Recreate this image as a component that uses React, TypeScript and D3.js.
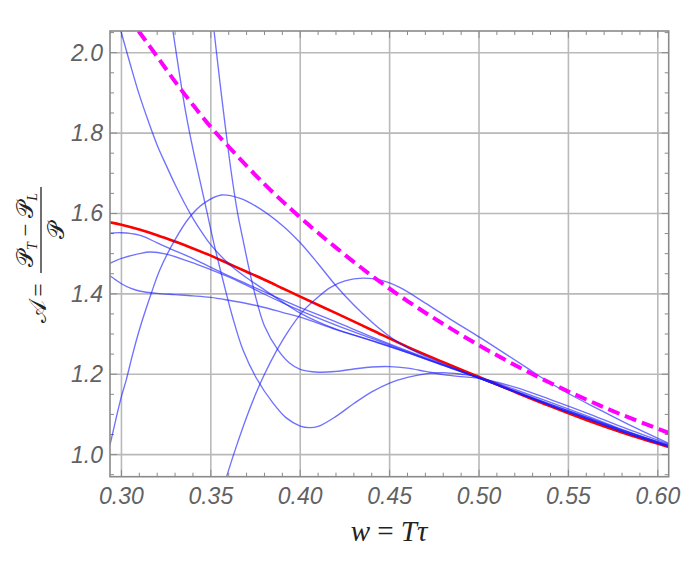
import React, { useEffect, useRef } from 'react';
import * as d3 from 'd3';

type Pt = [number, number];

// axis ticks
const xTickValues = [0.30, 0.35, 0.40, 0.45, 0.50, 0.55, 0.60];
const yTickValues = [1.0, 1.2, 1.4, 1.6, 1.8, 2.0];

// exact curve (red) and the bound (magenta dashed)
const redCurve: Pt[] = [
  [0.2936, 1.578], [0.30, 1.572], [0.31, 1.56], [0.32, 1.546], [0.33, 1.53], [0.34, 1.513],
  [0.35, 1.495], [0.36, 1.475], [0.37, 1.455], [0.38, 1.435], [0.39, 1.414], [0.40, 1.393],
  [0.42, 1.352], [0.44, 1.31], [0.46, 1.268], [0.48, 1.23], [0.50, 1.193], [0.52, 1.156],
  [0.54, 1.12], [0.56, 1.086], [0.58, 1.055], [0.6061, 1.019],
];

const magentaCurve: Pt[] = [
  [0.3096, 2.054], [0.32, 1.99], [0.33, 1.928], [0.34, 1.87], [0.35, 1.815], [0.36, 1.766],
  [0.38, 1.673], [0.40, 1.59], [0.42, 1.515], [0.44, 1.445], [0.46, 1.382], [0.48, 1.325],
  [0.50, 1.272], [0.52, 1.223], [0.54, 1.178], [0.56, 1.137], [0.58, 1.099], [0.6061, 1.054],
];

// common tails the approximations settle on
const bundleTail: Pt[] = [
  [0.52, 1.156], [0.54, 1.122], [0.56, 1.09], [0.58, 1.058], [0.6061, 1.02],
];
const bundleTailHigh: Pt[] = [
  [0.52, 1.158], [0.54, 1.125], [0.56, 1.093], [0.58, 1.061], [0.6061, 1.023],
];

const approxL1: Pt[] = [
  [0.2936, 1.551], [0.30, 1.552], [0.31, 1.546], [0.32, 1.527], [0.33, 1.507], [0.338, 1.492],
  [0.35, 1.466], [0.36, 1.445], [0.37, 1.425], [0.38, 1.405], [0.39, 1.385], [0.40, 1.366],
  [0.42, 1.33], [0.44, 1.293], [0.46, 1.258], [0.48, 1.224], [0.50, 1.191],
];

const approxL2: Pt[] = [
  [0.2936, 1.476], [0.30, 1.488], [0.31, 1.5], [0.316, 1.504], [0.325, 1.499], [0.338, 1.48],
  [0.35, 1.46], [0.36, 1.442], [0.37, 1.421], [0.38, 1.399], [0.39, 1.378], [0.40, 1.358],
  [0.42, 1.322], [0.44, 1.289], [0.46, 1.256], [0.48, 1.223], [0.50, 1.191],
];

const approxL3: Pt[] = [
  [0.2936, 1.445], [0.297, 1.434], [0.30, 1.425], [0.305, 1.414], [0.31, 1.407], [0.32, 1.401],
  [0.33, 1.398], [0.34, 1.395], [0.35, 1.391], [0.36, 1.384], [0.37, 1.376], [0.38, 1.366],
  [0.39, 1.354], [0.40, 1.342], [0.42, 1.311], [0.44, 1.283], [0.46, 1.254], [0.48, 1.222],
  [0.50, 1.19],
];

const approxS1: Pt[] = [
  [0.2997, 2.054], [0.305, 1.97], [0.31, 1.895], [0.315, 1.83], [0.32, 1.77], [0.325, 1.72],
  [0.33, 1.672], [0.335, 1.628], [0.34, 1.588], [0.345, 1.553], [0.35, 1.522], [0.36, 1.475],
  [0.37, 1.44], [0.38, 1.41], [0.39, 1.38], [0.40, 1.352], [0.41, 1.33], [0.42, 1.312],
  [0.44, 1.284], [0.46, 1.254], [0.48, 1.222], [0.50, 1.19],
];

const approxS2: Pt[] = [
  [0.3288, 2.054], [0.332, 1.96], [0.336, 1.85], [0.34, 1.76], [0.3435, 1.69], [0.348, 1.60],
  [0.352, 1.52], [0.357, 1.43], [0.362, 1.345], [0.368, 1.26], [0.3755, 1.19], [0.3848, 1.128],
  [0.392, 1.092], [0.40, 1.071], [0.405, 1.067], [0.41, 1.07], [0.42, 1.095], [0.43, 1.127],
  [0.44, 1.156], [0.45, 1.178], [0.46, 1.192], [0.47, 1.201], [0.48, 1.204], [0.49, 1.2],
  [0.50, 1.193], [0.52, 1.162], [0.54, 1.13], [0.56, 1.097], [0.58, 1.063], [0.6061, 1.023],
];

const approxS3: Pt[] = [
  [0.3518, 2.054], [0.355, 1.93], [0.358, 1.82], [0.3615, 1.70], [0.365, 1.60], [0.368, 1.534],
  [0.372, 1.45], [0.3755, 1.385], [0.38, 1.32], [0.3876, 1.26], [0.394, 1.228], [0.40, 1.212],
  [0.41, 1.205], [0.42, 1.207], [0.43, 1.213], [0.44, 1.218], [0.45, 1.219], [0.46, 1.215],
  [0.47, 1.207], [0.48, 1.199], [0.49, 1.194], [0.50, 1.19], [0.52, 1.168], [0.54, 1.137],
  [0.56, 1.104], [0.58, 1.069], [0.6061, 1.026],
];

const approxP: Pt[] = [
  [0.2936, 1.024], [0.297, 1.09], [0.30, 1.145], [0.3027, 1.186], [0.306, 1.245], [0.31, 1.31],
  [0.3166, 1.40], [0.3215, 1.46], [0.33, 1.535], [0.338, 1.59], [0.346, 1.625], [0.356, 1.646],
  [0.366, 1.638], [0.3774, 1.612], [0.39, 1.57], [0.40, 1.527], [0.41, 1.475], [0.42, 1.42],
  [0.43, 1.372], [0.44, 1.33], [0.45, 1.294], [0.46, 1.266], [0.47, 1.245], [0.48, 1.226],
  [0.49, 1.208], [0.50, 1.19],
];

const approxQ: Pt[] = [
  [0.3588, 0.945], [0.362, 0.99], [0.366, 1.043], [0.37, 1.093], [0.375, 1.15], [0.38, 1.2],
  [0.3867, 1.258], [0.393, 1.305], [0.4016, 1.357], [0.41, 1.392], [0.4165, 1.415], [0.425, 1.432],
  [0.435, 1.439], [0.445, 1.434], [0.4556, 1.416], [0.47, 1.377], [0.485, 1.334], [0.50, 1.293],
  [0.515, 1.25], [0.5264, 1.217], [0.5338, 1.195], [0.55, 1.152], [0.5673, 1.112], [0.585, 1.072],
  [0.6061, 1.028],
];

const blueSeries: Pt[][] = [
  [...approxL1, ...bundleTailHigh],
  [...approxL2, ...bundleTailHigh],
  [...approxL3, ...bundleTail],
  [...approxS1, ...bundleTail],
  [...approxP, ...bundleTail],
  approxS2,
  approxS3,
  approxQ,
];

const W = 696;
const H = 564;
const plot = { left: 110, top: 31, right: 668.7, bottom: 476.7 };

export default function App() {
  const svgRef = useRef<SVGSVGElement>(null);

  useEffect(() => {
    if (!svgRef.current) return;
    const svg = d3.select(svgRef.current);
    svg.selectAll('*').remove();

    const x = d3.scaleLinear().domain([0.2936, 0.6061]).range([plot.left, plot.right]);
    const y = d3.scaleLinear().domain([0.945, 2.054]).range([plot.bottom, plot.top]);

    svg.append('rect').attr('width', W).attr('height', H).attr('fill', 'white');

    svg.append('defs').append('clipPath').attr('id', 'plotClip')
      .append('rect')
      .attr('x', plot.left).attr('y', plot.top)
      .attr('width', plot.right - plot.left).attr('height', plot.bottom - plot.top);

    // grid
    const grid = svg.append('g').attr('stroke', '#b9b9b9').attr('stroke-width', 1.6);
    xTickValues.forEach(v => {
      grid.append('line').attr('x1', x(v)).attr('x2', x(v)).attr('y1', plot.top).attr('y2', plot.bottom);
    });
    yTickValues.forEach(v => {
      grid.append('line').attr('y1', y(v)).attr('y2', y(v)).attr('x1', plot.left).attr('x2', plot.right);
    });

    // frame ticks (inside, all four sides)
    const ticks = svg.append('g').attr('stroke', '#8a8a8a').attr('stroke-width', 1);
    const isMajor = (v: number, list: number[]) => list.some(t => Math.abs(t - v) < 1e-6);
    x.ticks(30).forEach(v => {
      const len = isMajor(v, xTickValues) ? 7 : 4;
      ticks.append('line').attr('x1', x(v)).attr('x2', x(v)).attr('y1', plot.bottom).attr('y2', plot.bottom - len);
      ticks.append('line').attr('x1', x(v)).attr('x2', x(v)).attr('y1', plot.top).attr('y2', plot.top + len);
    });
    y.ticks(20).forEach(v => {
      const len = isMajor(v, yTickValues) ? 7 : 4;
      ticks.append('line').attr('y1', y(v)).attr('y2', y(v)).attr('x1', plot.left).attr('x2', plot.left + len);
      ticks.append('line').attr('y1', y(v)).attr('y2', y(v)).attr('x1', plot.right).attr('x2', plot.right - len);
    });

    const line = d3.line<Pt>()
      .x(d => x(d[0]))
      .y(d => y(d[1]))
      .curve(d3.curveCatmullRom.alpha(0.5));

    const curves = svg.append('g').attr('clip-path', 'url(#plotClip)').attr('fill', 'none');

    curves.append('path')
      .attr('d', line(redCurve))
      .attr('stroke', '#ff0000')
      .attr('stroke-width', 2.6);

    curves.selectAll('.approx')
      .data(blueSeries)
      .enter()
      .append('path')
      .attr('class', 'approx')
      .attr('d', d => line(d))
      .attr('stroke', '#1a1aff')
      .attr('stroke-opacity', 0.62)
      .attr('stroke-width', 1.35);

    curves.append('path')
      .attr('d', line(magentaCurve))
      .attr('stroke', '#ff00ff')
      .attr('stroke-width', 4)
      .attr('stroke-dasharray', '12,6');

    // frame
    svg.append('rect')
      .attr('x', plot.left).attr('y', plot.top)
      .attr('width', plot.right - plot.left).attr('height', plot.bottom - plot.top)
      .attr('fill', 'none').attr('stroke', '#8a8a8a').attr('stroke-width', 1.6);

    // tick labels
    const labelStyle = (sel: d3.Selection<SVGTextElement, unknown, null, undefined>) =>
      sel.attr('font-family', '"Liberation Sans", Arial, sans-serif')
        .attr('font-style', 'italic')
        .attr('font-size', 23)
        .attr('fill', '#626262');

    xTickValues.forEach(v => {
      svg.append('text').call(labelStyle)
        .attr('x', x(v)).attr('y', 504)
        .attr('text-anchor', 'middle')
        .text(d3.format('.2f')(v));
    });
    yTickValues.forEach(v => {
      svg.append('text').call(labelStyle)
        .attr('x', 103).attr('y', y(v) + 8)
        .attr('text-anchor', 'end')
        .text(d3.format('.1f')(v));
    });

    // x axis title
    const xt = svg.append('text')
      .attr('x', 389).attr('y', 541)
      .attr('text-anchor', 'middle')
      .attr('font-family', '"Liberation Serif", "DejaVu Serif", serif')
      .attr('font-size', 29)
      .attr('fill', '#222');
    xt.append('tspan').attr('font-style', 'italic').text('w');
    xt.append('tspan').text(' = ');
    xt.append('tspan').attr('font-style', 'italic').text('T');
    xt.append('tspan').attr('font-style', 'italic').text('τ');

    // y axis title, rotated: local x runs up the page, local y to the right
    const yt = svg.append('g')
      .attr('transform', 'translate(47,320) rotate(-90)')
      .attr('font-family', '"Liberation Serif", "DejaVu Serif", serif')
      .attr('fill', '#222');
    yt.append('text').attr('x', 9).attr('y', -1).attr('text-anchor', 'middle')
      .attr('font-size', 24).text('𝒜');
    yt.append('text').attr('x', 30).attr('y', -1).attr('text-anchor', 'middle')
      .attr('font-size', 24).text('=');
    yt.append('line')
      .attr('x1', 47).attr('x2', 133).attr('y1', -6).attr('y2', -6)
      .attr('stroke', '#222').attr('stroke-width', 1.3);
    const num = yt.append('text').attr('x', 90).attr('y', -14).attr('text-anchor', 'middle').attr('font-size', 23);
    num.append('tspan').text('𝒫');
    num.append('tspan').attr('font-size', 14).attr('dy', 4).attr('font-style', 'italic').text('T');
    num.append('tspan').attr('dy', -4).text(' − 𝒫');
    num.append('tspan').attr('font-size', 14).attr('dy', 4).attr('font-style', 'italic').text('L');
    yt.append('text').attr('x', 90).attr('y', 17).attr('text-anchor', 'middle').attr('font-size', 23).text('𝒫');
  }, []);

  return (
    <svg
      ref={svgRef}
      width={W}
      height={H}
      style={{ position: 'absolute', left: 0, top: 0 }}
    />
  );
}
